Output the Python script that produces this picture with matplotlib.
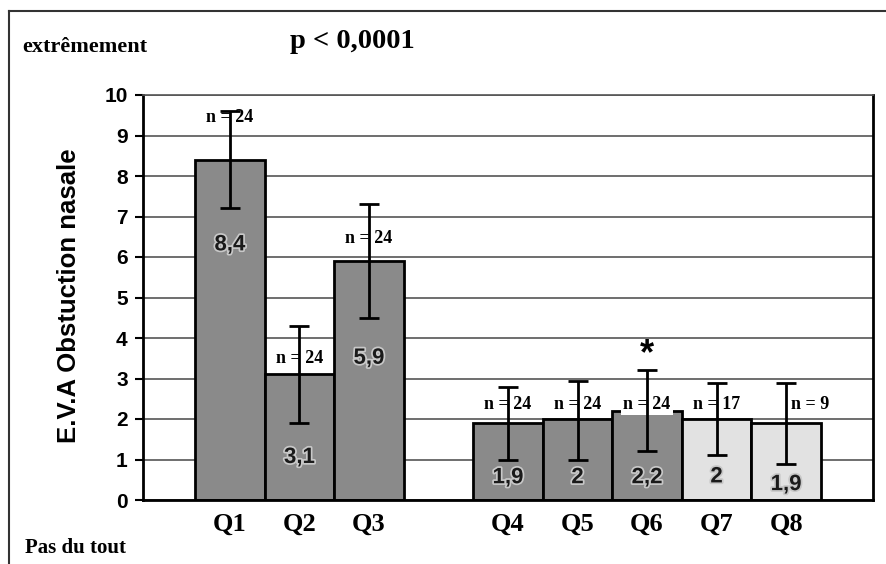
"""E.V.A obstruction nasale, Q1-Q8 bar chart."""

import matplotlib

matplotlib.use("Agg")
import matplotlib.pyplot as plt
import matplotlib.patheffects as pe
from matplotlib.lines import Line2D

questions = ["Q1", "Q2", "Q3", "Q4", "Q5", "Q6", "Q7", "Q8"]
positions = [0, 1, 2, 4, 5, 6, 7, 8]
means = [8.4, 3.1, 5.9, 1.9, 2.0, 2.2, 2.0, 1.9]
err_low = [1.2, 1.2, 1.4, 0.9, 1.0, 1.0, 0.9, 1.0]
err_high = [1.2, 1.2, 1.4, 0.9, 0.95, 1.0, 0.9, 1.0]
counts = [24, 24, 24, 24, 24, 24, 17, 9]
value_labels = ["8,4", "3,1", "5,9", "1,9", "2", "2,2", "2", "1,9"]
n_label_y = [9.45, 3.5, 6.45, 2.35, 2.35, 2.35, 2.35, 2.35]
value_label_y = [6.3, 1.05, 3.5, 0.55, 0.55, 0.55, 0.57, 0.38]
dark = "#8a8a8a"
light = "#e2e2e2"
colors = [dark] * 6 + [light] * 2

serif = ["Liberation Serif", "DejaVu Serif"]
sans = ["Liberation Sans", "DejaVu Sans"]

fig = plt.figure(figsize=(8.87, 5.64), dpi=100)
ax = fig.add_axes([143 / 887, 1 - 500 / 564, 730 / 887, 405 / 564])

ax.bar(positions, means, width=1.0, color=colors, edgecolor="black",
       linewidth=2, zorder=2)
ax.errorbar(positions, means, yerr=[err_low, err_high], fmt="none",
            ecolor="black", elinewidth=2, capsize=7, capthick=2, zorder=5)

for i, (x, n) in enumerate(zip(positions, counts)):
    dx = 0.35 if i == len(positions) - 1 else 0.0
    ax.text(x + dx, n_label_y[i], f"n = {n}", ha="center", va="center",
            fontsize=13, fontweight="bold", family=serif, zorder=4,
            bbox=dict(facecolor="white", edgecolor="none", pad=1.5))
    ax.text(x, value_label_y[i], value_labels[i], ha="center", va="center",
            fontsize=16, fontweight="bold", family=sans, color="#1a1a1a",
            zorder=4,
            path_effects=[pe.withStroke(linewidth=2.5, foreground="#c8c8c8")])

ax.text(positions[5], 3.6, "*", ha="center", va="center", fontsize=26,
        fontweight="bold", family=sans, zorder=4)

ax.set_xlim(-1.25, 9.25)
ax.set_ylim(0, 10)
ax.set_yticks(range(0, 11))
ax.set_xticks(positions)
ax.set_xticklabels(questions, family=serif, fontsize=19, fontweight="bold")
ax.tick_params(axis="x", length=0, pad=9)
ax.tick_params(axis="y", length=6, width=1.5, direction="out", pad=5)
for lbl in ax.get_yticklabels():
    lbl.set_family(sans)
    lbl.set_fontsize(15)
    lbl.set_fontweight("bold")

ax.yaxis.grid(True, color="#555555", linewidth=1.2, zorder=0)
ax.set_axisbelow(True)
for side in ["left", "bottom", "right"]:
    ax.spines[side].set_linewidth(2)
ax.spines["top"].set_linewidth(1.2)
ax.spines["top"].set_color("#555555")

fig.text(69 / 887, 1 - 296 / 564, "E.V.A Obstuction nasale", rotation=90,
         ha="center", va="center", fontsize=18.5, fontweight="bold",
         family=sans)
fig.text(352 / 887, 1 - 42 / 564, "p < 0,0001", ha="center", va="center",
         fontsize=20.5, fontweight="bold", family=serif)
fig.text(22 / 887, 1 - 47 / 564, "extrêmement", ha="left", va="center",
         fontsize=16, fontweight="bold", family=serif)
fig.text(25 / 887, 1 - 548 / 564, "Pas du tout", ha="left", va="center",
         fontsize=15, fontweight="bold", family=serif)

# outer frame (only top and left edges visible in the scan)
fig.add_artist(Line2D([9 / 887, 9 / 887], [0, 1 - 11 / 564], color="#333333",
                      linewidth=1.5, transform=fig.transFigure))
fig.add_artist(Line2D([9 / 887, 1], [1 - 11 / 564, 1 - 11 / 564],
                      color="#333333", linewidth=1.5, transform=fig.transFigure))

fig.savefig("out.png", dpi=100)
plt.close(fig)
